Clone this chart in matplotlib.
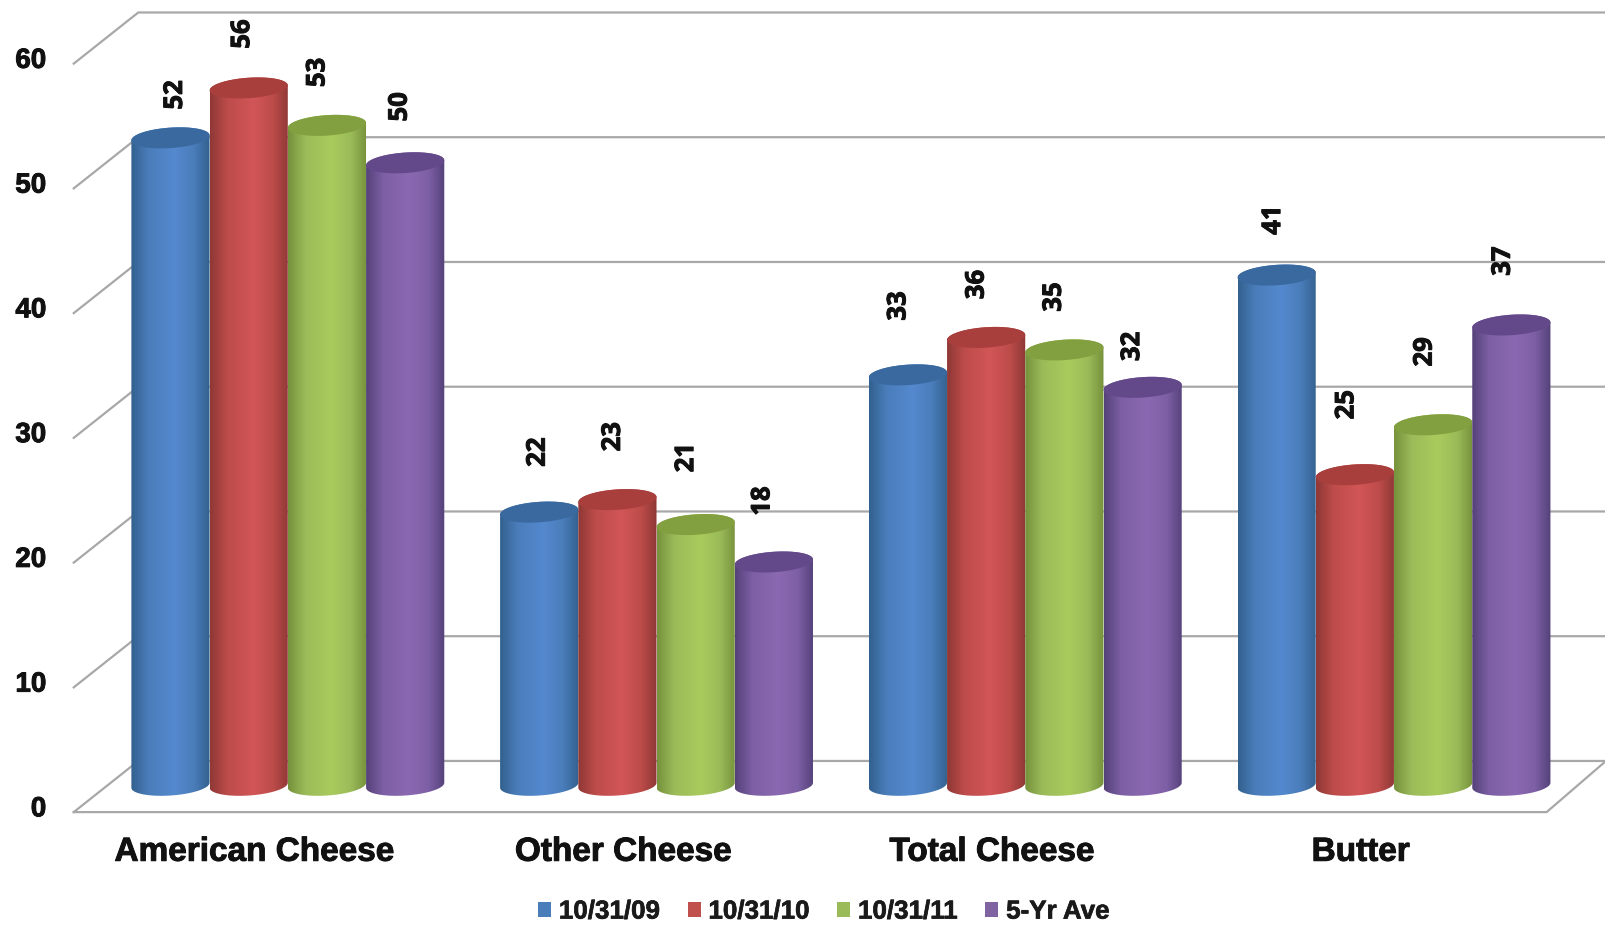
"""Dairy stocks cylinder bar chart
"""

import numpy as np
import matplotlib.pyplot as plt
import matplotlib.patheffects as pe
from matplotlib.colors import LinearSegmentedColormap
from matplotlib.patches import Patch, Polygon

plt.rcParams['font.family'] = ['Liberation Sans', 'DejaVu Sans']

CATEGORIES = ['American Cheese', 'Other Cheese', 'Total Cheese', 'Butter']
SERIES = ['10/31/09', '10/31/10', '10/31/11', '5-Yr Ave']

VALS_09 = [52, 22, 33, 41]
VALS_10 = [56, 23, 36, 25]
VALS_11 = [53, 21, 35, 29]
VALS_AVE = [50, 18, 32, 37]

YTICKS = [0, 10, 20, 30, 40, 50, 60]

# edge, mid, highlight, cap, legend swatch
COLORS = [
    ('#33618f', '#4a7dba', '#5489cf', '#39699f', '#4a7ebb'),
    ('#8f3836', '#bd4c4a', '#d25657', '#a83f3d', '#c0504d'),
    ('#76923c', '#9bbb59', '#a9cb5d', '#82a03f', '#9bbb59'),
    ('#55427a', '#7d5fa5', '#8b69b2', '#64498a', '#8064a2'),
]

# label offset from the top of each bar, in pixels (dx, dy)
LABEL_DX = [[4, -7, -10, -6], [-2, -5, -10, -12],
            [-10, -10, -11, -11], [-4, -9, -9, -9]]
LABEL_DY = [[43, 54, 53, 56], [60, 63, 67, 61],
            [69, 53, 53, 41], [55, 70, 73, 64]]

BAR_STEP = 0.2122
HALF_W = 0.106
CAP_H = 0.82
CAP_TILT = 0.2

HEAVY = [pe.withStroke(linewidth=0.7, foreground='#111111')]


def ellipse(cx, y, t):
    return cx + HALF_W * np.cos(t), y + CAP_H * np.sin(t) + CAP_TILT * np.cos(t)


def draw_cylinder(ax, cx, value, colors):
    edge, mid, high, cap, _ = colors
    cmap = LinearSegmentedColormap.from_list(
        'cyl', [(0, edge), (0.22, mid), (0.55, high), (0.8, mid), (1, edge)])

    # body outline: upper half of the top ring, lower half of the bottom ring
    tx, ty = ellipse(cx, value, np.linspace(0, np.pi, 50))
    bx, by = ellipse(cx, 0.1, np.linspace(np.pi, 2 * np.pi, 50))
    body = Polygon(np.c_[np.r_[tx, bx], np.r_[ty, by]], closed=True,
                   transform=ax.transData, fc='none', ec='none')
    ax.add_patch(body)
    grad = np.linspace(0, 1, 128).reshape(1, -1)
    im = ax.imshow(grad, cmap=cmap, aspect='auto', zorder=3,
                   extent=(cx - HALF_W, cx + HALF_W, -2, value + 2))
    im.set_clip_path(body)

    # cap sits on top
    cx_pts, cy_pts = ellipse(cx, value, np.linspace(0, 2 * np.pi, 100))
    ax.fill(cx_pts, cy_pts, color=cap, lw=0, zorder=3)


fig = plt.figure(figsize=(16.06, 9.25), dpi=100)
ax = fig.add_axes([0, 0, 1, 1])
ax.axis('off')

# grid: back wall lines, left side wall, floor
GRID = '#a8a8a8'
x_front, x_back = -0.5806, -0.4056
x_right, x_far = 3.414, 3.575
depth = 2.05
for tick in YTICKS:
    ax.plot([x_front, x_back, x_far], [tick - depth, tick + depth, tick + depth],
            color=GRID, lw=1.6, zorder=1, solid_joinstyle='miter')
    ax.text(-0.655, tick - depth + 0.22, str(tick), fontsize=20, fontweight='bold',
            ha='right', va='center', color='#111111', path_effects=HEAVY)
ax.plot([x_front, x_right, x_far], [-depth, -depth, depth],
        color=GRID, lw=1.6, zorder=1, solid_joinstyle='miter')

all_vals = [VALS_09, VALS_10, VALS_11, VALS_AVE]
for g in range(len(CATEGORIES)):
    for s, vals in enumerate(all_vals):
        cx = g + (s - 1.5) * BAR_STEP
        draw_cylinder(ax, cx, vals[g], COLORS[s])
        ax.annotate(str(vals[g]), (cx, vals[g]), textcoords='offset pixels',
                    xytext=(LABEL_DX[g][s], LABEL_DY[g][s]), rotation=90,
                    ha='center', va='center', fontsize=18.5, fontweight='bold',
                    family=['Open Sans', 'DejaVu Sans'], color='#111111',
                    zorder=4, path_effects=HEAVY)
    ax.text(g - 0.09, -5.27, CATEGORIES[g], fontsize=24, fontweight='bold',
            ha='center', va='center', color='#111111', path_effects=HEAVY)

ax.set_xlim(-0.7806, 3.575)
ax.set_ylim(-11.1, 63.05)

handles = [Patch(fc=c[4], ec='none', label=lab) for c, lab in zip(COLORS, SERIES)]
leg = fig.legend(handles=handles, ncol=4, loc='center', bbox_to_anchor=(0.513, 0.0145),
                 frameon=False, prop={'weight': 'bold', 'size': 18.7},
                 handlelength=0.5, handleheight=0.5, handletextpad=0.3,
                 columnspacing=1.05, labelcolor='#1a1a1a',
                 borderpad=0, borderaxespad=0)
for t in leg.get_texts():
    t.set_path_effects([pe.withStroke(linewidth=0.5, foreground='#1a1a1a')])

plt.savefig('out.png', dpi=100)
